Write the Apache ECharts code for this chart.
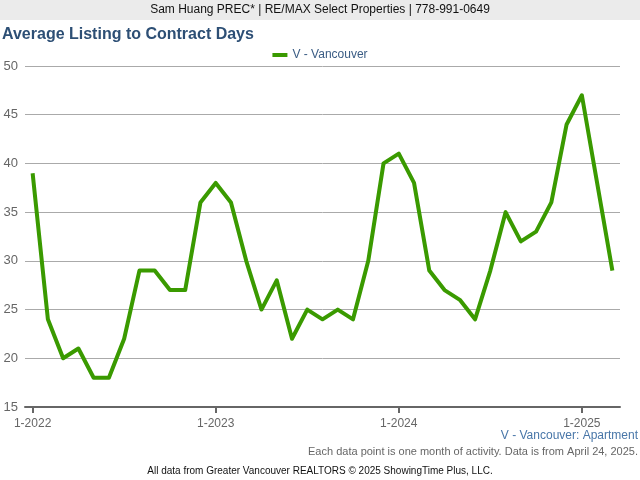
<!DOCTYPE html>
<html><head><meta charset="utf-8">
<script src="https://cdn.jsdelivr.net/npm/echarts@6/dist/echarts.min.js"></script>
<style>html,body{margin:0;padding:0;background:#fff}#c{width:640px;height:480px}</style>
</head><body><div id="c"></div>
<script>
const months = [];
for (let y = 2022; y <= 2025; y++) for (let m = 1; m <= 12; m++) { if (y === 2025 && m > 3) break; months.push(m + '-' + y); }
const seriesName = 'V - Vancouver';
const values = [39,24,20,21,18,18,22,29,29,27,27,36,
                38,36,30,25,28,22,25,24,25,24,30,40,
                41,38,29,27,26,24,29,35,32,33,36,44,
                47,38,29];
const yTicks = {min: 15, max: 50, interval: 5};
const chart = echarts.init(document.getElementById('c'));
const font = 'Liberation Sans, Arial, sans-serif';
chart.setOption({
  animation: false,
  textStyle: {fontFamily: font},
  graphic: [
    {type: 'rect', shape: {x: 0, y: 0, width: 640, height: 20}, style: {fill: '#ebebeb'}},
    {type: 'text', left: 'center', top: 4, style: {text: 'Sam Huang PREC* | RE/MAX Select Properties | 778-991-0649', fontSize: 12, fill: '#111', fontFamily: font}},
    {type: 'text', left: 2, top: 27, style: {text: 'Average Listing to Contract Days', fontSize: 16, fontWeight: 'bold', fill: '#2d4f75', fontFamily: font}},
    {type: 'text', right: 2, top: 430, style: {text: 'V - Vancouver: Apartment', fontSize: 12, fill: '#4876a8', fontFamily: font}},
    {type: 'text', right: 2, top: 446, style: {text: 'Each data point is one month of activity. Data is from April 24, 2025.', fontSize: 11, fill: '#666', fontFamily: font}},
    {type: 'text', left: 'center', top: 466, style: {text: 'All data from Greater Vancouver REALTORS \u00a9 2025 ShowingTime Plus, LLC.', fontSize: 10, fill: '#111', fontFamily: font}}
  ],
  legend: {
    data: [seriesName], top: 44, left: 'center', icon: 'rect', itemWidth: 15, itemHeight: 4, itemGap: 5,
    textStyle: {color: '#3a5c84', fontSize: 12, fontFamily: font}
  },
  grid: {left: 25, right: 20, top: 66, bottom: 73, containLabel: false},
  xAxis: {
    type: 'category', data: months, boundaryGap: true,
    axisLine: {lineStyle: {color: '#666', width: 2}},
    axisTick: {show: true, alignWithLabel: true, interval: (i) => i % 12 === 0, length: 6, lineStyle: {color: '#666', width: 2}},
    axisLabel: {interval: (i) => i % 12 === 0, color: '#666', fontSize: 12, margin: 11, fontFamily: font},
    splitLine: {show: false}
  },
  yAxis: {
    type: 'value', min: yTicks.min, max: yTicks.max, interval: yTicks.interval,
    axisLine: {show: false}, axisTick: {show: false},
    axisLabel: {color: '#666', fontSize: 13, margin: 7, padding: [4, 0, 0, 0], fontFamily: font},
    splitLine: {lineStyle: {color: '#aaa', width: 1}}
  },
  series: [{
    name: seriesName, type: 'line', data: values, showSymbol: false, symbol: 'none',
    lineStyle: {color: '#3a9a00', width: 4, join: 'round'}, itemStyle: {color: '#3a9a00'}
  }]
});
</script></body></html>
